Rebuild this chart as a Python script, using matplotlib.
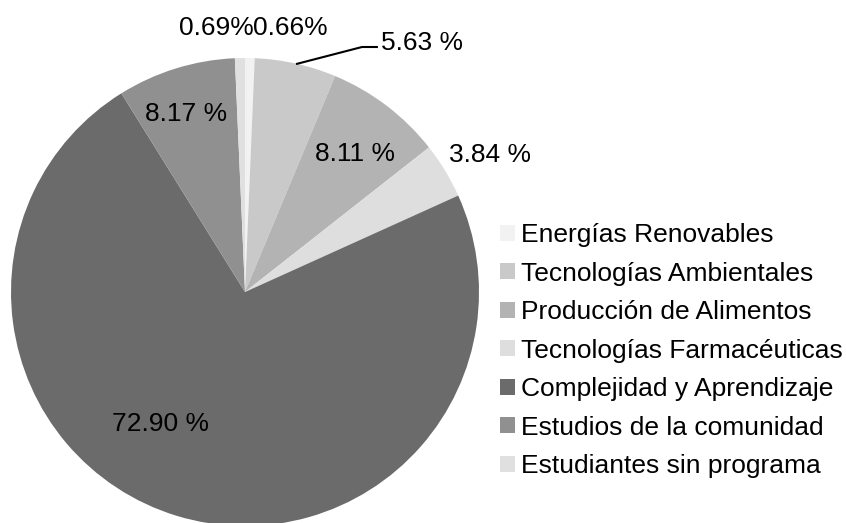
import matplotlib
matplotlib.use("Agg")
import matplotlib.pyplot as plt
from matplotlib.patches import Patch

categories = ["Energías Renovables", "Tecnologías Ambientales", "Producción de Alimentos",
              "Tecnologías Farmacéuticas", "Complejidad y Aprendizaje",
              "Estudios de la comunidad", "Estudiantes sin programa"]
values = [0.66, 5.63, 8.11, 3.84, 72.90, 8.17, 0.69]
labels = ["0.66%", "5.63 %", "8.11 %", "3.84 %", "72.90 %", "8.17 %", "0.69%"]
colors = ["#f2f2f2", "#c9c9c9", "#b3b3b3", "#dedede", "#6b6b6b", "#909090", "#e0e0e0"]

plt.rcParams['font.family'] = ['Liberation Sans', 'DejaVu Sans']
FS = 19

W, H = 846, 523
fig = plt.figure(figsize=(W / 100, H / 100), dpi=100)
cx, cy, R = 245, 292, 234
ax = fig.add_axes([(cx - R) / W, (H - cy - R) / H, 2 * R / W, 2 * R / H])
wedges, _ = ax.pie(values, colors=colors, startangle=90, counterclock=False,
                   radius=1, wedgeprops=dict(linewidth=0))
ax.set_xlim(-1, 1)
ax.set_ylim(-1, 1)
ax.axis('off')

# label positions (axes data coords)
label_pos = [(0.192, 1.127), (0.58, 1.063), (0.47, 0.590), (1.047, 0.585),
             (-0.363, -0.565), (-0.252, 0.760), (-0.124, 1.127)]
for i, (lab, (x, y)) in enumerate(zip(labels, label_pos)):
    ha = 'left' if i == 1 else 'center'
    ax.text(x, y, lab, ha=ha, va='center', fontsize=FS, color='black', clip_on=False)

# leader line for 5.63 %
ax.plot([0.218, 0.500, 0.568], [0.974, 1.047, 1.047], color='black', lw=1.5,
        clip_on=False, solid_capstyle='butt')

handles = [Patch(facecolor=c, edgecolor='none') for c in colors]
fig.legend(handles, categories, loc='upper left',
           bbox_to_anchor=(500 / W, 1 - 223 / H), frameon=False,
           fontsize=FS, handlelength=0.55, handleheight=0.55,
           handletextpad=0.25, labelspacing=0.55, borderpad=0, borderaxespad=0)

fig.savefig("out.png", dpi=100)
